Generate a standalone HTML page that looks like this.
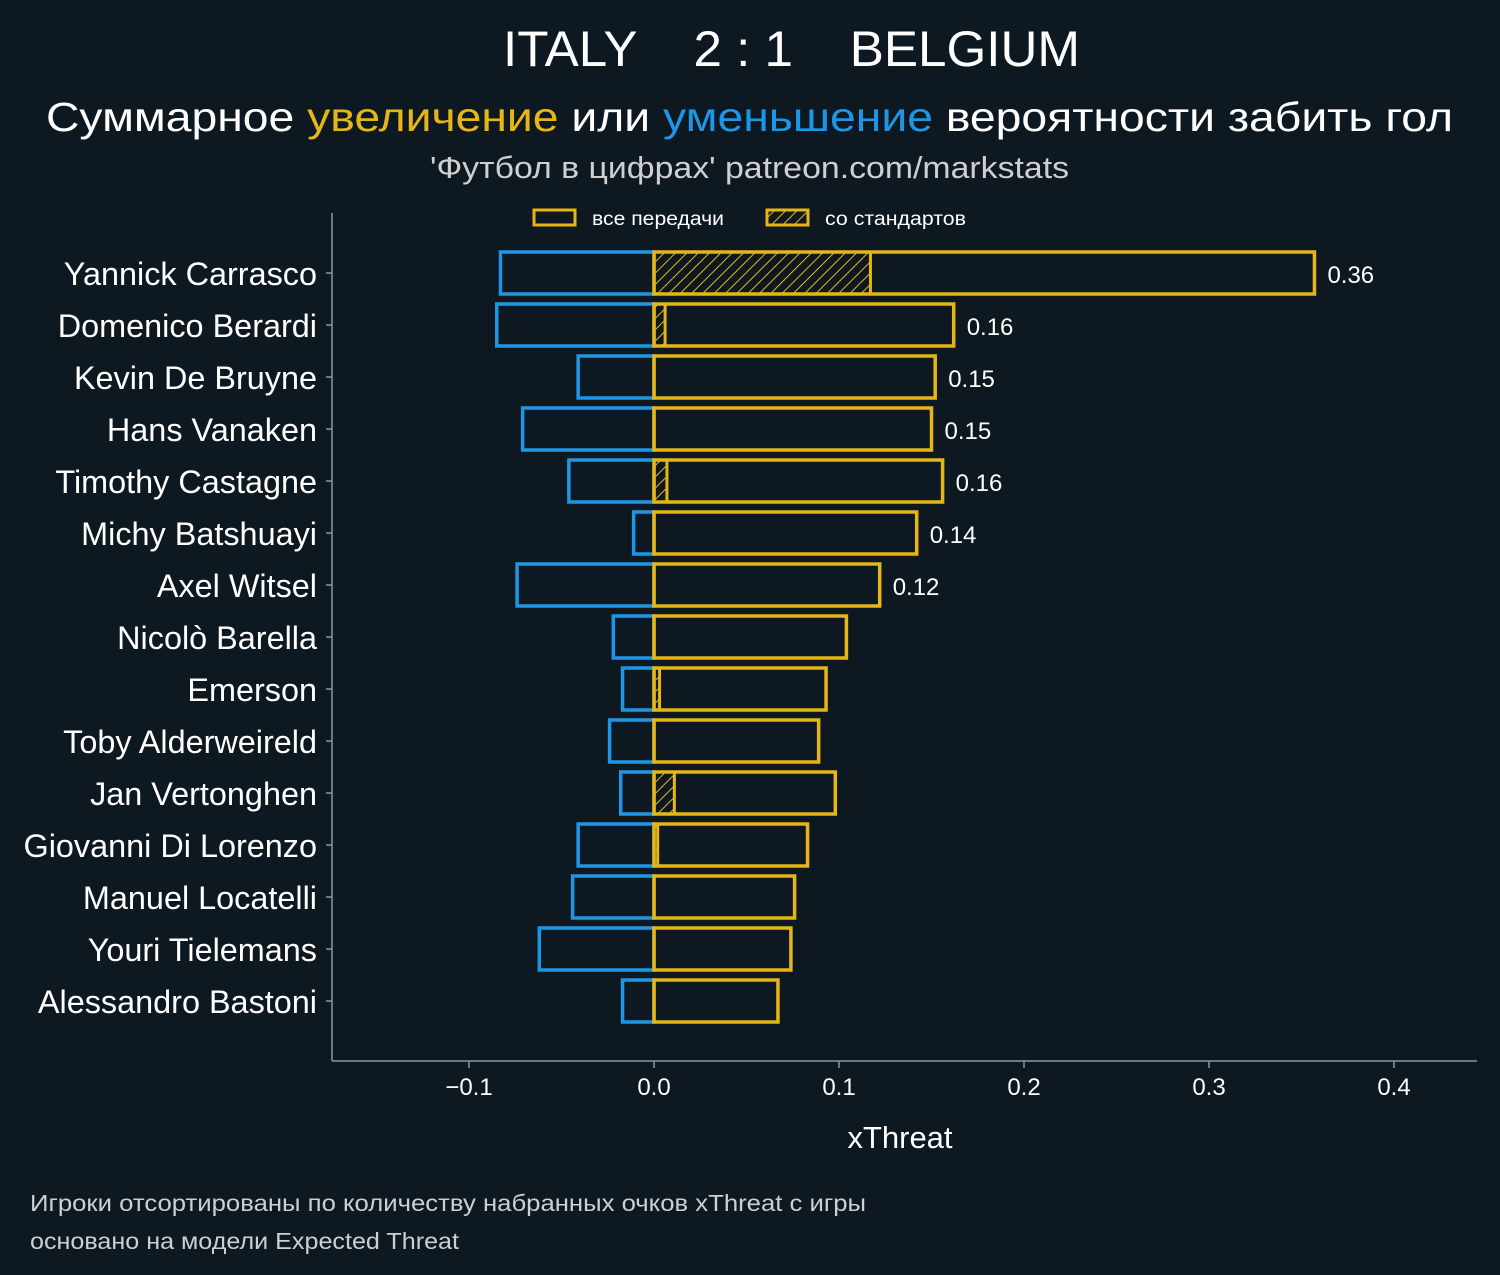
<!DOCTYPE html>
<html><head><meta charset="utf-8"><style>
body{margin:0;background:#0e1821;}
svg{display:block}
text{font-family:"Liberation Sans","DejaVu Sans",sans-serif;}
</style></head><body>
<svg id="chart" width="1500" height="1275" xmlns="http://www.w3.org/2000/svg">
<defs><pattern id="hatch" width="8" height="8" patternUnits="userSpaceOnUse" patternTransform="rotate(45)"><rect width="8" height="8" fill="none"/><line x1="0" y1="0" x2="0" y2="8" stroke="#e6b619" stroke-width="2"/></pattern></defs>
<rect width="1500" height="1275" fill="#0e1821"/>
<text x="503" y="66" fill="#fff" font-size="50" textLength="577" lengthAdjust="spacingAndGlyphs" xml:space="preserve">ITALY    2 : 1    BELGIUM</text>
<text x="46" y="131" fill="#fff" font-size="41" textLength="1407" lengthAdjust="spacingAndGlyphs">Суммарное <tspan fill="#e6b619">увеличение</tspan> или <tspan fill="#1e96e6">уменьшение</tspan> вероятности забить гол</text>
<text x="430" y="178" fill="#cfcfcf" font-size="31" textLength="639" lengthAdjust="spacingAndGlyphs">'Футбол в цифрах' patreon.com/markstats</text>
<g>
<rect x="534" y="210" width="41" height="15" fill="none" stroke="#e6b619" stroke-width="3"/>
<text x="592" y="225" fill="#fff" font-size="19" textLength="132" lengthAdjust="spacingAndGlyphs">все передачи</text>
<rect x="767" y="210" width="41" height="15" fill="url(#hatch)" stroke="#e6b619" stroke-width="3"/>
<text x="825" y="225" fill="#fff" font-size="19" textLength="141" lengthAdjust="spacingAndGlyphs">со стандартов</text>
</g>
<line x1="332" y1="213" x2="332" y2="1061" stroke="#8a979f" stroke-width="1.5"/>
<line x1="332" y1="1061" x2="1477" y2="1061" stroke="#8a979f" stroke-width="1.5"/>
<g id="bars"></g>
<text x="900" y="1148" text-anchor="middle" fill="#fff" font-size="31">xThreat</text>
<text x="30" y="1211" fill="#cfcfcf" font-size="23" textLength="836" lengthAdjust="spacingAndGlyphs">Игроки отсортированы по количеству набранных очков xThreat с игры</text>
<text x="30" y="1249" fill="#cfcfcf" font-size="23" textLength="429" lengthAdjust="spacingAndGlyphs">основано на модели Expected Threat</text>
</svg>
<script>
const players=["Yannick Carrasco","Domenico Berardi","Kevin De Bruyne","Hans Vanaken","Timothy Castagne","Michy Batshuayi","Axel Witsel","Nicolò Barella","Emerson","Toby Alderweireld","Jan Vertonghen","Giovanni Di Lorenzo","Manuel Locatelli","Youri Tielemans","Alessandro Bastoni"];
const positive=[0.357,0.162,0.152,0.150,0.156,0.142,0.122,0.104,0.093,0.089,0.098,0.083,0.076,0.074,0.067];
const setPiece=[0.117,0.006,0,0,0.007,0,0,0,0.003,0,0.011,0.002,0,0,0];
const negative=[-0.083,-0.085,-0.041,-0.071,-0.046,-0.011,-0.074,-0.022,-0.017,-0.024,-0.018,-0.041,-0.044,-0.062,-0.017];
const valueLabels=["0.36","0.16","0.15","0.15","0.16","0.14","0.12","","","","","","","",""];
const xTicks=[-0.1,0,0.1,0.2,0.3,0.4];
const xTickLabels=["−0.1","0.0","0.1","0.2","0.3","0.4"];
const NS="http://www.w3.org/2000/svg";
const x=v=>654+v*1850;
const y=i=>273+i*52;
const g=document.getElementById('bars');
function mk(tag,attrs){const e=document.createElementNS(NS,tag);for(const k in attrs)e.setAttribute(k,attrs[k]);g.appendChild(e);return e;}
players.forEach((p,i)=>{
  const cy=y(i),h=42;
  let t=mk('text',{x:317,y:cy+12,'text-anchor':'end',fill:'#fff','font-size':32.4});t.textContent=p;
  
  
  let tk=mk('line',{x1:326,x2:332,y1:cy,y2:cy,stroke:'#8a979f','stroke-width':1.5});
  
  
  let n=mk('rect',{x:x(negative[i]),y:cy-h/2,width:x(0)-x(negative[i]),height:h,fill:'none',stroke:'#1e96e6','stroke-width':3.5});
  
  
  if(setPiece[i]>0){let s=mk('rect',{x:x(0),y:cy-h/2,width:x(setPiece[i])-x(0),height:h,fill:'url(#hatch)',stroke:'#e6b619','stroke-width':3});
  
  }
  let b=mk('rect',{x:x(0),y:cy-h/2,width:x(positive[i])-x(0),height:h,fill:'none',stroke:'#e6b619','stroke-width':3.5});
  
  
  if(valueLabels[i]){let v=mk('text',{x:x(positive[i])+13,y:cy+10,fill:'#fff','font-size':24});v.textContent=valueLabels[i];
  
  }
});
xTicks.forEach((v,i)=>{
  let l=mk('line',{x1:x(v),x2:x(v),y1:1061,y2:1068,stroke:'#8a979f','stroke-width':1.5});
  
  
  let t=mk('text',{x:x(v),y:1095,'text-anchor':'middle',fill:'#fff','font-size':24});t.textContent=xTickLabels[i];
  
  
});
</script>
</body></html>
